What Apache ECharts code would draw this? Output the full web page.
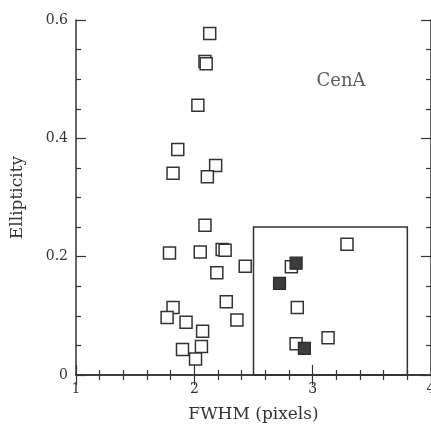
<!DOCTYPE html>
<html>
<head>
<meta charset="utf-8">
<script src="https://cdn.jsdelivr.net/npm/echarts@6/dist/echarts.min.js"></script>
<style>
  html, body { margin: 0; padding: 0; background: #fff; }
  #chart { width: 431px; height: 424px; }
</style>
</head>
<body>
<div id="chart"></div>
<script>
// open squares
var fwhmOpen = [2.13, 2.09, 2.10, 2.03, 1.86, 1.82, 2.18, 2.11, 2.09, 1.79,
  2.05, 2.235, 2.26, 2.19, 2.43, 2.27, 2.36, 1.82, 1.77, 1.93,
  2.07, 1.90, 2.06, 2.01, 3.29, 2.82, 2.87, 3.13, 2.86];
var ellipOpen = [0.577, 0.530, 0.526, 0.456, 0.381, 0.341, 0.354, 0.335, 0.253, 0.206,
  0.208, 0.212, 0.211, 0.173, 0.184, 0.124, 0.093, 0.114, 0.097, 0.089,
  0.074, 0.043, 0.048, 0.027, 0.221, 0.183, 0.114, 0.063, 0.053];
// filled squares
var fwhmFilled = [2.86, 2.72, 2.93];
var ellipFilled = [0.189, 0.155, 0.045];
// selection box and label
var boxX = [2.5, 3.8];
var boxY = [0, 0.25];
var tagPos = [3.24, 0.496];
var xTicks = [1, 2, 3, 4];
var yTicks = [0, 0.2, 0.4, 0.6];

var ink = "#333";
var serif = "DejaVu Serif";

function pairs(xs, ys) {
  return xs.map(function (x, i) { return [x, ys[i]]; });
}

var chart = echarts.init(document.getElementById("chart"));

var baseAxis = {
  axisLine: { lineStyle: { color: ink, width: 1.5 } },
  axisTick: { inside: true, length: 10, lineStyle: { color: ink, width: 1.2 } },
  minorTick: { show: true, length: 5, lineStyle: { color: ink, width: 1.2 } },
  splitLine: { show: false },
  minorSplitLine: { show: false }
};

var option = {
  animation: false,
  backgroundColor: "#fff",
  grid: { left: 76, top: 20, right: 0, bottom: 49, outerBoundsMode: "none", containLabel: false },
  xAxis: [
    Object.assign({}, baseAxis, {
      type: "value", min: xTicks[0], max: xTicks[xTicks.length - 1], interval: 1,
      minorTick: Object.assign({}, baseAxis.minorTick, { splitNumber: 5 }),
      name: "FWHM (pixels)", nameLocation: "middle", nameGap: 31,
      nameTextStyle: { fontFamily: serif, fontSize: 17, color: ink },
      axisLabel: { fontFamily: serif, fontSize: 14, color: ink, margin: 7 }
    }),
    Object.assign({}, baseAxis, {
      type: "value", position: "top", min: 1, max: 4, interval: 1,
      minorTick: Object.assign({}, baseAxis.minorTick, { splitNumber: 5 }),
      axisLabel: { show: false }
    })
  ],
  yAxis: [
    Object.assign({}, baseAxis, {
      type: "value", min: yTicks[0], max: yTicks[yTicks.length - 1], interval: 0.2,
      minorTick: Object.assign({}, baseAxis.minorTick, { splitNumber: 4 }),
      name: "Ellipticity", nameLocation: "middle", nameGap: 50,
      nameTextStyle: { fontFamily: serif, fontSize: 17, color: ink },
      axisLabel: {
        fontFamily: serif, fontSize: 14, color: ink, margin: 8,
        formatter: function (v) { return v === 0 ? "0" : v.toFixed(1); }
      }
    }),
    Object.assign({}, baseAxis, {
      type: "value", position: "right", min: 0, max: 0.6, interval: 0.2,
      minorTick: Object.assign({}, baseAxis.minorTick, { splitNumber: 4 }),
      axisLabel: { show: false }
    })
  ],
  series: [
    {
      type: "scatter",
      symbol: "rect",
      symbolSize: 12,
      data: pairs(fwhmOpen, ellipOpen),
      itemStyle: { color: "#fff", borderColor: ink, borderWidth: 1.5, opacity: 1 },
      markArea: {
        silent: true,
        itemStyle: { color: "rgba(0,0,0,0)", borderColor: ink, borderWidth: 1.5 },
        data: [[{ coord: [boxX[0], boxY[0]] }, { coord: [boxX[1], boxY[1]] }]]
      },
      z: 3
    },
    {
      type: "scatter",
      symbol: "rect",
      symbolSize: 12,
      data: pairs(fwhmFilled, ellipFilled),
      itemStyle: { color: "#3c3c3c", borderColor: "#2a2a2a", borderWidth: 1.2, opacity: 1 },
      z: 4
    },
    {
      type: "scatter",
      symbolSize: 0,
      silent: true,
      data: [tagPos],
      label: {
        show: true, position: "inside", formatter: "CenA",
        fontFamily: serif, fontSize: 18, color: ink
      }
    }
  ]
};

chart.setOption(option);
</script>
</body>
</html>
